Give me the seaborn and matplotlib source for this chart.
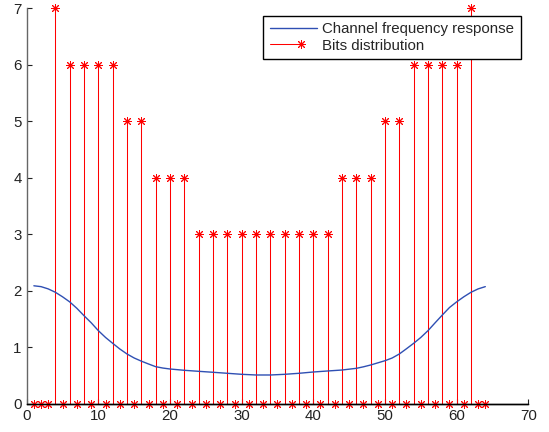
import matplotlib
matplotlib.use("Agg")
import matplotlib.pyplot as plt
import seaborn as sns
from matplotlib.lines import Line2D
from matplotlib.legend_handler import HandlerBase

# Bit loading per subcarrier
subcarriers = list(range(1, 65))
bits = [0, 0, 0, 7, 0, 6, 0, 6, 0, 6, 0, 6, 0, 5, 0, 5,
        0, 4, 0, 4, 0, 4, 0, 3, 0, 3, 0, 3, 0, 3, 0, 3,
        0, 3, 0, 3, 0, 3, 0, 3, 0, 3, 0, 4, 0, 4, 0, 4,
        0, 5, 0, 5, 0, 6, 0, 6, 0, 6, 0, 6, 0, 7, 0, 0]

# Channel magnitude response sampled along the subcarrier axis
resp_x = [1, 2, 3, 4, 5, 6, 7, 8, 9, 10, 11, 12, 13, 14, 15, 16, 17, 18, 19,
          20, 22, 24, 26, 28, 30, 32, 34, 36, 38, 40, 42, 44, 46, 47, 48,
          49, 50, 51, 52, 53, 54, 55, 56, 57, 58, 59, 60, 61, 62, 63, 64]
resp_y = [2.085, 2.07, 2.03, 1.97, 1.89, 1.80, 1.686, 1.555, 1.43, 1.29,
          1.17, 1.066, 0.965, 0.877, 0.806, 0.75, 0.70, 0.652, 0.628,
          0.611, 0.588, 0.57, 0.553, 0.535, 0.517, 0.505, 0.505, 0.517,
          0.535, 0.558, 0.576, 0.593, 0.623, 0.65, 0.682, 0.72, 0.758,
          0.806, 0.877, 0.97, 1.066, 1.17, 1.29, 1.43, 1.567, 1.70, 1.80,
          1.89, 1.97, 2.03, 2.07]

x_ticks = [0, 10, 20, 30, 40, 50, 60, 70]
y_ticks = [0, 1, 2, 3, 4, 5, 6, 7]

FS = 10.8
RED = "#ff0000"
BLUE = "#2f4fb3"
ASTERISK = (8, 2, 0)

sns.set_style("ticks")
plt.rcParams["font.family"] = ["Liberation Sans", "DejaVu Sans"]

fig = plt.figure(figsize=(5.49, 4.32), dpi=100)
ax = fig.add_axes([26.7 / 549, 1 - 403.5 / 432, (528.3 - 26.7) / 549, (403.5 - 8.3) / 432])

# Frequency response curve
sns.lineplot(x=resp_x, y=resp_y, ax=ax, color=BLUE, linewidth=1.0, zorder=3)

# Stems and asterisk heads for the bit distribution
ax.vlines(subcarriers, 0, bits, colors=RED, linewidth=0.75, zorder=2)
ax.plot(subcarriers, bits, linestyle="none", marker=ASTERISK, markersize=6.2,
        markeredgewidth=0.7, color=RED, clip_on=False, zorder=4)
ax.axhline(0, color="black", linewidth=1.0, zorder=5, clip_on=False)

ax.set_xlim(0, 70)
ax.set_ylim(0, 7)
ax.set_xticks(x_ticks)
ax.set_yticks(y_ticks)
ax.tick_params(direction="in", length=3.3, width=0.8, labelsize=FS, colors="#222222")
ax.tick_params(axis="x", pad=4.0)
ax.tick_params(axis="y", pad=3.6)
sns.despine(ax=ax, top=True, right=True)
ax.spines["left"].set_color("#666666")
ax.spines["left"].set_linewidth(1.0)
ax.spines["bottom"].set_color("black")
ax.spines["bottom"].set_linewidth(1.0)
ax.set_xlabel("")
ax.set_ylabel("")


class StemLegendHandler(HandlerBase):
    def create_artists(self, legend, orig_handle, xdescent, ydescent,
                       width, height, fontsize, trans):
        y = (height - ydescent) / 2
        x0 = -xdescent
        line = Line2D([x0, x0 + 0.72 * width], [y, y], color=RED, linewidth=0.75)
        mark = Line2D([x0 + 0.67 * width], [y], linestyle="none", marker=ASTERISK,
                      markersize=6.2, markeredgewidth=0.7, color=RED)
        line.set_transform(trans)
        mark.set_transform(trans)
        return [line, mark]


curve_handle = Line2D([], [], color=BLUE, linewidth=1.0)
stem_handle = Line2D([], [], color=RED)
leg = ax.legend([curve_handle, stem_handle],
                ["Channel frequency response", "Bits distribution"],
                handler_map={stem_handle: StemLegendHandler()},
                loc="upper right",
                bbox_to_anchor=(520.7 / 549, 1 - 15.7 / 432),
                bbox_transform=fig.transFigure,
                fontsize=FS, frameon=True, fancybox=False, framealpha=1.0,
                edgecolor="black", borderpad=0.45, labelspacing=0.15,
                handlelength=3.1, handletextpad=0.35, borderaxespad=0.0)
leg.get_frame().set_linewidth(1.0)
leg.set_zorder(10)

fig.savefig("out.png", dpi=100)
